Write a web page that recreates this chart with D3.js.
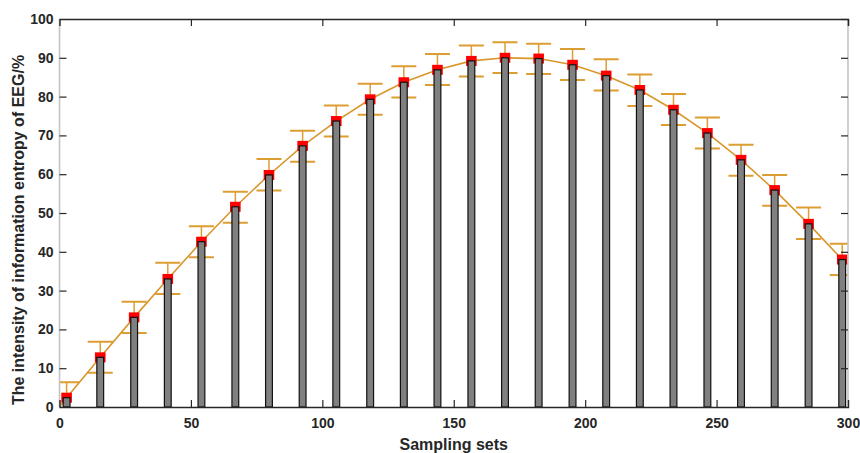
<!DOCTYPE html>
<html>
<head>
<meta charset="utf-8">
<script src="https://cdn.jsdelivr.net/npm/d3@7/dist/d3.min.js"></script>
<style>
  body { margin: 0; background: #fff; }
  svg { display: block; font-family: "Liberation Sans", Arial, sans-serif; }
</style>
</head>
<body>
<div id="chart"></div>
<script>
// sampling set positions and EEG entropy values
var sets = [2.7, 15.5, 28.4, 41.2, 54.0, 66.9, 79.7, 92.5, 105.3, 118.2, 131.0, 143.8,
            156.7, 169.5, 182.3, 195.2, 208.0, 220.8, 233.6, 246.5, 259.3, 272.1, 285.0, 297.8];
var means = [2.4, 12.8, 23.1, 33.0, 42.6, 51.6, 59.8, 67.3, 73.7, 79.3, 83.7, 86.9,
             89.2, 90.0, 89.8, 88.2, 85.4, 81.7, 76.6, 70.6, 63.7, 55.9, 47.2, 38.0];
var upper = [6.4, 16.8, 27.1, 37.2, 46.6, 55.5, 63.9, 71.2, 77.7, 83.3, 87.8, 91.0,
             93.2, 94.0, 93.6, 92.3, 89.6, 85.7, 80.7, 74.6, 67.6, 59.8, 51.4, 42.1];
var lower = [-1.6, 8.8, 19.1, 29.1, 38.6, 47.5, 55.8, 63.2, 69.7, 75.3, 79.8, 83.0,
             85.2, 86.1, 85.8, 84.3, 81.6, 77.6, 72.7, 66.6, 59.6, 51.9, 43.3, 34.0];
var xTicks = [0, 50, 100, 150, 200, 250, 300];
var yTicks = [0, 10, 20, 30, 40, 50, 60, 70, 80, 90, 100];

draw_chart();

function draw_chart() {
  var width = 860;
  var height = 453;
  var margin = { top: 19, right: 12, bottom: 46, left: 59.5 };
  var w = width - margin.left - margin.right;
  var h = height - margin.top - margin.bottom;

  var x = d3.scaleLinear().domain([0, 300]).range([0, w]);
  var y = d3.scaleLinear().domain([0, 100]).range([h, 0]);

  var data = sets.map(function (s, i) {
    return { s: s, m: means[i], hi: upper[i], lo: lower[i] };
  });

  var svg = d3.select("#chart").append("svg")
    .attr("width", width)
    .attr("height", height);

  svg.append("defs").append("clipPath").attr("id", "clip")
    .append("rect").attr("width", w).attr("height", h + 1);

  var g = svg.append("g")
    .attr("transform", "translate(" + margin.left + "," + margin.top + ")");

  var plot = g.append("g").attr("clip-path", "url(#clip)");

  var orange = "#DC9E32";
  var capW = 12.5;

  // error bars
  var eb = plot.selectAll(".eb").data(data).enter().append("g").attr("class", "eb");
  eb.append("line")
    .attr("x1", function (d) { return x(d.s); })
    .attr("x2", function (d) { return x(d.s); })
    .attr("y1", function (d) { return y(d.lo); })
    .attr("y2", function (d) { return y(d.hi); })
    .attr("stroke", orange).attr("stroke-width", 1.5);
  eb.append("line")
    .attr("x1", function (d) { return x(d.s) - capW; })
    .attr("x2", function (d) { return x(d.s) + capW; })
    .attr("y1", function (d) { return y(d.hi); })
    .attr("y2", function (d) { return y(d.hi); })
    .attr("stroke", orange).attr("stroke-width", 2);
  eb.append("line")
    .attr("x1", function (d) { return x(d.s) - capW; })
    .attr("x2", function (d) { return x(d.s) + capW; })
    .attr("y1", function (d) { return y(d.lo); })
    .attr("y2", function (d) { return y(d.lo); })
    .attr("stroke", orange).attr("stroke-width", 2);

  // trend line
  var valueline = d3.line()
    .x(function (d) { return x(d.s); })
    .y(function (d) { return y(d.m); });

  plot.append("path")
    .datum([{ s: 0, m: 0 }].concat(data))
    .attr("d", valueline)
    .attr("fill", "none")
    .attr("stroke", "#D9962B")
    .attr("stroke-width", 1.6);

  // red markers
  plot.selectAll(".mk").data(data).enter().append("rect")
    .attr("x", function (d) { return x(d.s) - 5.3; })
    .attr("y", function (d) { return y(d.m) - 5; })
    .attr("width", 10.6)
    .attr("height", 10)
    .attr("fill", "#FF0000");

  // bars
  plot.selectAll(".bar").data(data).enter().append("rect")
    .attr("x", function (d) { return x(d.s) - 3.4; })
    .attr("y", function (d) { return y(d.m); })
    .attr("width", 6.8)
    .attr("height", function (d) { return h - y(d.m); })
    .attr("fill", "#808080")
    .attr("stroke", "#111")
    .attr("stroke-width", 1.2);

  // box
  g.append("line").attr("x1", 0).attr("x2", 0).attr("y1", 0).attr("y2", h)
    .attr("stroke", "#c4c4c4").attr("stroke-width", 1.6);
  g.append("line").attr("x1", w).attr("x2", w).attr("y1", 0).attr("y2", h)
    .attr("stroke", "#c4c4c4").attr("stroke-width", 1.6);

  var tickColor = "#262626";

  var xAxis = g.append("g")
    .attr("transform", "translate(0," + h + ")")
    .call(d3.axisBottom(x).tickValues(xTicks).tickSize(-7).tickPadding(11).tickFormat(d3.format("d")));
  var xTop = g.append("g")
    .call(d3.axisTop(x).tickValues(xTicks).tickSize(-7).tickFormat(""));
  var yAxis = g.append("g")
    .call(d3.axisLeft(y).tickValues(yTicks).tickSize(-7).tickPadding(6).tickFormat(d3.format("d")));
  var yRight = g.append("g")
    .attr("transform", "translate(" + w + ",0)")
    .call(d3.axisRight(y).tickValues(yTicks).tickSize(-7).tickFormat(""));

  [xAxis, xTop, yAxis, yRight].forEach(function (a) {
    a.selectAll(".tick line").attr("stroke", tickColor).attr("stroke-width", 1.2);
    a.selectAll("text").attr("fill", tickColor)
      .style("font-size", "14px").style("font-weight", "bold")
      .style("font-family", "'Liberation Sans', Arial, sans-serif");
  });
  yAxis.select(".domain").remove();
  yRight.select(".domain").remove();
  xAxis.select(".domain").attr("stroke", tickColor).attr("stroke-width", 1.4);
  xTop.select(".domain").attr("stroke", tickColor).attr("stroke-width", 1.4);
  // hide ticks sitting on the corners of the box
  yAxis.selectAll(".tick line").filter(function (d) { return d === 0 || d === 100; }).remove();
  yRight.selectAll(".tick line").filter(function (d) { return d === 0; }).remove();
  xAxis.selectAll(".tick line").filter(function (d) { return d === 0 || d === 300; }).remove();
  xTop.selectAll(".tick line").filter(function (d) { return d === 0; }).remove();

  // axis titles
  svg.append("text")
    .attr("x", margin.left + w / 2)
    .attr("y", 450)
    .attr("text-anchor", "middle")
    .attr("fill", tickColor)
    .style("font-size", "16px").style("font-weight", "bold")
    .text("Sampling sets");

  svg.append("text")
    .attr("transform", "translate(24," + (margin.top + h / 2 + 17) + ") rotate(-90)")
    .attr("text-anchor", "middle")
    .attr("fill", tickColor)
    .style("font-size", "16px").style("font-weight", "bold")
    .text("The intensity of information entropy of EEG/%");
}
</script>
</body>
</html>
